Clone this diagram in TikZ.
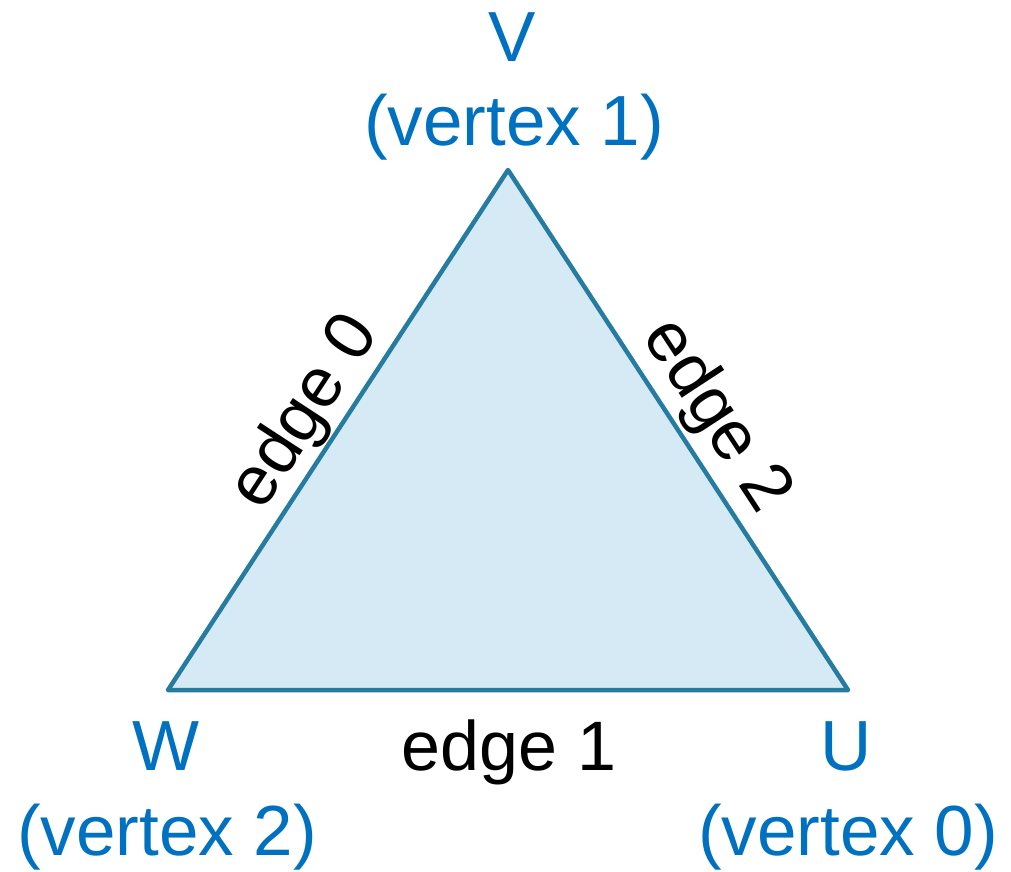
\documentclass[tikz,border=0pt]{standalone}
\usepackage{fontspec}
\setmainfont{Liberation Sans}
\definecolor{edgecol}{RGB}{38,124,160}
\definecolor{fillcol}{RGB}{213,234,245}
\definecolor{labblue}{RGB}{0,112,192}
\begin{document}
\begin{tikzpicture}[x=1pt,y=-1pt,
  vlabel/.style={text=labblue,font=\fontsize{71}{84}\selectfont,inner sep=0pt,anchor=base},
  elabel/.style={text=black,font=\fontsize{70}{84}\selectfont},
  tri/.style={draw=edgecol,fill=fillcol,line width=4.5pt,line join=round}]
\useasboundingbox (0,0) rectangle (1011,871);
\coordinate (V) at (508,170);
\coordinate (W) at (168,690);
\coordinate (U) at (848,690);
\draw[tri] (V) -- (W) -- (U) -- cycle;
\path (W) -- (V) node[pos=0.495,sloped,above,elabel,inner sep=3pt] (e0) {edge 0};
\path (V) -- (U) node[pos=0.515,sloped,above,elabel,inner sep=6pt] (e2) {edge 2};
\node[elabel,inner sep=0pt,anchor=base] (e1) at (509,770) {edge 1};
\node[vlabel] (Vn) at (512,61) {V};
\node[vlabel] (Vv) at (514,145) {(vertex 1)};
\node[vlabel] (Wn) at (166,770) {W};
\node[vlabel] (Wv) at (167,855) {(vertex 2)};
\node[vlabel] (Un) at (846,770) {U};
\node[vlabel] (Uv) at (848,855) {(vertex 0)};
\end{tikzpicture}
\end{document}
